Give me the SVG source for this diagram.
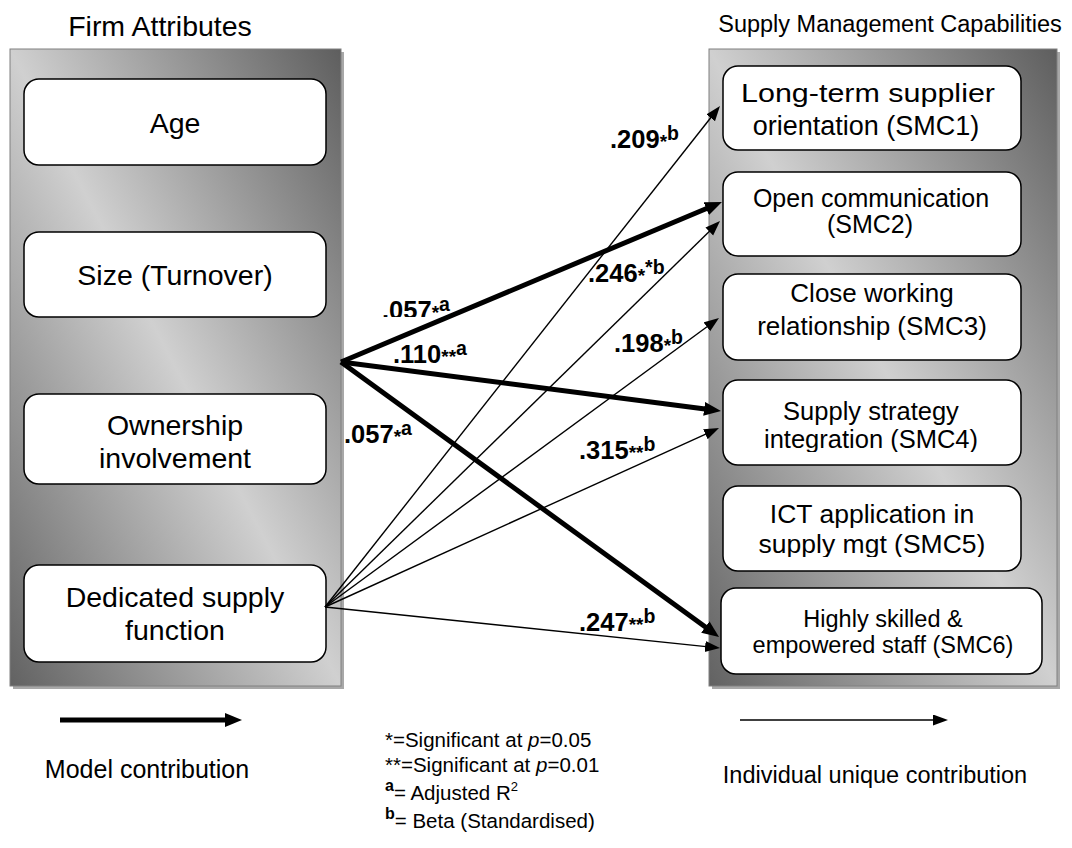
<svg xmlns="http://www.w3.org/2000/svg" width="1072" height="848" viewBox="0 0 1072 848">
<style>
.t{font-family:"Liberation Sans",Arial,sans-serif;fill:#000}
.m{text-anchor:middle}
.panel{fill:url(#panelGrad);stroke:#808080;stroke-width:1}
.shadow{fill:#a8a8a8}
.box{fill:#fff;stroke:#000;stroke-width:1.5}
.thick{stroke:#000;stroke-width:5;fill:none;marker-end:url(#headThick)}
.thin{stroke:#000;stroke-width:1.4;fill:none;marker-end:url(#headThin)}
.lbl{font-weight:bold;font-size:25.5px}
.ast{font-size:19px}
.sup{font-size:19.5px}
.leg{font-size:20.5px}
</style>
<defs>
<linearGradient id="panelGrad" x1="1" y1="0" x2="0" y2="1">
<stop offset="0" stop-color="#5e5e5e"/>
<stop offset="0.5" stop-color="#d0d0d0"/>
<stop offset="1" stop-color="#626262"/>
</linearGradient>
<marker id="headThick" markerUnits="userSpaceOnUse" markerWidth="18" markerHeight="14" refX="1" refY="7" orient="auto">
<path d="M0,0 L17,7 L0,14 z" fill="#000"/>
</marker>
<marker id="headThin" markerUnits="userSpaceOnUse" markerWidth="16" markerHeight="12" refX="1" refY="5.5" orient="auto">
<path d="M0,0 L15,5.5 L0,11 z" fill="#000"/>
</marker>
<clipPath id="clipSMC4"><rect x="723" y="380" width="298" height="72"/></clipPath>
<clipPath id="clipSMC5"><rect x="723" y="486" width="298" height="71"/></clipPath>
<clipPath id="clip057"><rect x="370" y="280" width="120" height="37"/></clipPath>
</defs>

<g id="firm-attributes-panel">
<rect class="shadow" x="13" y="52" width="331" height="637"/>
<rect class="panel" x="10" y="49" width="331" height="637"/>
<text class="t m" x="160" y="36" font-size="28.5">Firm Attributes</text>
</g>

<g id="smc-panel">
<rect class="shadow" x="712" y="52" width="348" height="637"/>
<rect class="panel" x="709" y="49" width="348" height="637"/>
<text class="t m" x="890" y="32" font-size="23.5">Supply Management Capabilities</text>
</g>

<g id="age">
<rect class="box" x="24" y="79" width="302" height="86" rx="15"/>
<text class="t m" x="175" y="133" font-size="28.5">Age</text>
</g>
<g id="size">
<rect class="box" x="24" y="232" width="302" height="85" rx="15"/>
<text class="t m" x="175" y="285" font-size="28.5">Size (Turnover)</text>
</g>
<g id="ownership">
<rect class="box" x="24" y="394" width="302" height="90" rx="15"/>
<text class="t m" x="175" y="435" font-size="28.5">Ownership</text>
<text class="t m" x="175" y="468" font-size="28.5">involvement</text>
</g>
<g id="dedicated">
<rect class="box" x="24" y="565" width="302" height="97" rx="15"/>
<text class="t m" x="175" y="607" font-size="28.5">Dedicated supply</text>
<text class="t m" x="175" y="640" font-size="28.5">function</text>
</g>

<g id="smc1">
<rect class="box" x="723" y="66" width="298" height="84" rx="15"/>
<text class="t m" x="868" y="102" font-size="26.5" textLength="254" lengthAdjust="spacingAndGlyphs">Long-term supplier</text>
<text class="t m" x="866" y="135" font-size="27">orientation (SMC1)</text>
</g>
<g id="smc2">
<rect class="box" x="723" y="172" width="298" height="84" rx="15"/>
<text class="t m" x="871" y="207" font-size="25">Open communication</text>
<text class="t m" x="870" y="233" font-size="25">(SMC2)</text>
</g>
<g id="smc3">
<rect class="box" x="723" y="274" width="298" height="86" rx="15"/>
<text class="t m" x="872" y="302" font-size="26">Close working</text>
<text class="t m" x="872" y="335" font-size="26">relationship (SMC3)</text>
</g>
<g id="smc4">
<rect class="box" x="723" y="380" width="298" height="85" rx="15"/>
<text class="t m" x="871" y="420" font-size="25.5">Supply strategy</text>
<text class="t m" x="871" y="448" font-size="25.5" clip-path="url(#clipSMC4)">integration (SMC4)</text>
</g>
<g id="smc5">
<rect class="box" x="723" y="486" width="298" height="85" rx="15"/>
<text class="t m" x="872" y="523" font-size="26.5">ICT application in</text>
<text class="t m" x="872" y="553" font-size="26.5" clip-path="url(#clipSMC5)">supply mgt (SMC5)</text>
</g>
<g id="smc6">
<rect class="box" x="721" y="588" width="321" height="86" rx="15"/>
<text class="t m" x="883" y="627" font-size="23.5">Highly skilled &amp;</text>
<text class="t m" x="883" y="653" font-size="23.5">empowered staff (SMC6)</text>
</g>

<g id="connectors">
<line class="thin" x1="325" y1="607" x2="711.3" y2="117"/>
<line class="thin" x1="325" y1="607" x2="710" y2="230.8"/>
<line class="thin" x1="325" y1="607" x2="707.7" y2="326.3"/>
<line class="thin" x1="325" y1="607" x2="706.3" y2="433.8"/>
<line class="thin" x1="325" y1="607" x2="706.1" y2="646.6"/>
<line class="thick" x1="341" y1="362" x2="707.2" y2="208.2"/>
<line class="thick" x1="341" y1="362" x2="705.1" y2="409"/>
<line class="thick" x1="341" y1="362" x2="706.1" y2="627.6"/>
</g>

<g id="edge-labels">
<text class="t lbl" x="610" y="148">.209<tspan class="ast">*</tspan><tspan class="sup" dy="-8">b</tspan></text>
<text class="t lbl" x="588" y="282">.246<tspan class="ast">*</tspan><tspan class="sup" dy="-8">*b</tspan></text>
<text class="t lbl" x="382" y="319" clip-path="url(#clip057)">.057<tspan class="ast">*</tspan><tspan class="sup" dy="-8">a</tspan></text>
<text class="t lbl" x="393" y="363">.110<tspan class="ast">**</tspan><tspan class="sup" dy="-8">a</tspan></text>
<text class="t lbl" x="614" y="352">.198<tspan class="ast">*</tspan><tspan class="sup" dy="-8">b</tspan></text>
<text class="t lbl" x="344" y="443">.057<tspan class="ast">*</tspan><tspan class="sup" dy="-8">a</tspan></text>
<text class="t lbl" x="579" y="459">.315<tspan class="ast">**</tspan><tspan class="sup" dy="-8">b</tspan></text>
<text class="t lbl" x="579" y="631">.247<tspan class="ast">**</tspan><tspan class="sup" dy="-8">b</tspan></text>
</g>

<g id="legend">
<line class="thick" x1="60" y1="720" x2="226" y2="720"/>
<text class="t m" x="147" y="778" font-size="25">Model contribution</text>
<line class="thin" x1="740" y1="720" x2="934" y2="720"/>
<text class="t m" x="875" y="783" font-size="23.5">Individual unique contribution</text>
<text class="t leg" x="385" y="747">*=Significant at <tspan font-style="italic">p</tspan>=0.05</text>
<text class="t leg" x="385" y="772">**=Significant at <tspan font-style="italic">p</tspan>=0.01</text>
<text class="t leg" x="385" y="800"><tspan font-weight="bold" font-size="16" dy="-9">a</tspan><tspan dy="9">= Adjusted R</tspan><tspan font-size="13" dy="-9">2</tspan></text>
<text class="t leg" x="385" y="828"><tspan font-weight="bold" font-size="16" dy="-9">b</tspan><tspan dy="9">= Beta (Standardised)</tspan></text>
</g>
</svg>
